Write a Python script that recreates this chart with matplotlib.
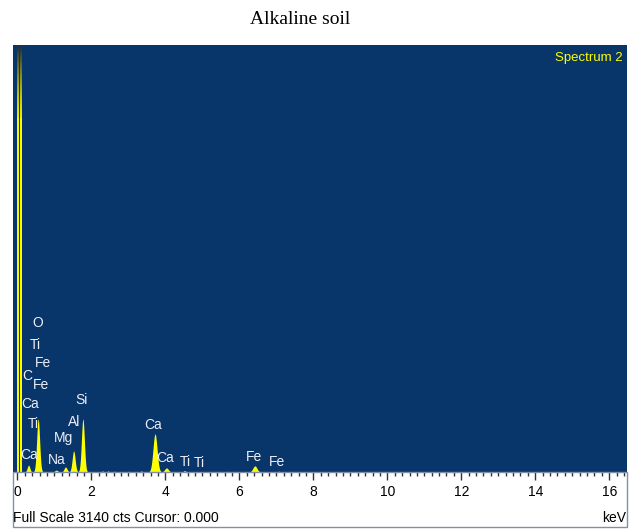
import numpy as np
import matplotlib
matplotlib.use('Agg')
import matplotlib.pyplot as plt
from matplotlib.patches import Rectangle
from matplotlib.ticker import MultipleLocator

# EDS spectrum, peaks (keV, counts, sigma keV)
peak_kev = [0.30, 0.56, 1.05, 1.30, 1.52, 1.77, 2.30, 2.45, 2.62, 3.00, 3.35, 3.72, 4.03, 4.52, 5.70, 6.42, 7.06]
peak_cts = [50, 390, 14, 37, 155, 390, 8, 8, 6, 6, 8, 280, 30, 10, 6, 45, 8]
peak_sig = [0.035, 0.04, 0.04, 0.04, 0.04, 0.04, 0.02, 0.02, 0.02, 0.01, 0.02, 0.055, 0.05, 0.03, 0.01, 0.055, 0.01]

# noise spike at zero energy, off scale
spike_kev = [0.02, 0.10]
full_scale = 3140

labels = ['O', 'Ti', 'Fe', 'C', 'Fe', 'Ca', 'Ti', 'Si', 'Al', 'Mg', 'Ca', 'Na',
          'Ca', 'Ca', 'Ti', 'Ti', 'Fe', 'Fe']
label_x = [0.54, 0.49, 0.70, 0.27, 0.63, 0.33, 0.42, 1.73, 1.52, 1.25, 0.31, 1.05,
           3.68, 4.00, 4.53, 4.93, 6.39, 7.03]
label_y = [1095, 937, 803, 706, 640, 500, 353, 529, 370, 248, 125, 88,
           345, 101, 75, 68, 112, 75]

blue = '#08356a'
yellow = '#ffff00'

fig = plt.figure(figsize=(6.37, 5.29), dpi=100)
ax = fig.add_axes([13/637, 57/529, 614/637, 427/529])
ax.set_facecolor(blue)

e = np.linspace(-0.1, 16.5, 6000)
spec = np.zeros_like(e)
for k, c, s in zip(peak_kev, peak_cts, peak_sig):
    spec += c * np.exp(-0.5 * ((e - k) / s) ** 2)
ax.fill_between(e, 0, spec, color=yellow, lw=0)

# the zero spike fades out toward the top
nseg = 40
fade_from = 2600
tops = np.linspace(fade_from, full_scale, nseg + 1)
for x in spike_kev:
    ax.vlines(x, 0, fade_from, color=yellow, lw=1.4)
    for i in range(nseg):
        f = ((i + 0.5) / nseg) ** 1.3
        col = (1 - f) * np.array([0.95, 0.95, 0.0]) + f * np.array([0.13, 0.17, 0.22])
        ax.vlines(x, tops[i], tops[i+1], color=col, lw=1.4)

for t, x, y in zip(labels, label_x, label_y):
    ax.text(x, y, t, color='#eeeef4', fontsize=10, family='Liberation Sans',
            ha='center', va='center')

ax.text(0.993, 0.97, 'Spectrum 2', transform=ax.transAxes, color=yellow,
        fontsize=9.5, family='Liberation Sans', ha='right', va='center')

ax.set_xlim(-0.12, 16.48)
ax.set_ylim(0, full_scale)
ax.xaxis.set_major_locator(MultipleLocator(2))
ax.xaxis.set_minor_locator(MultipleLocator(0.2))
ax.tick_params(axis='x', which='major', direction='out', length=6, width=1,
               labelsize=10, pad=3, color='#333333')
ax.tick_params(axis='x', which='minor', direction='out', length=3, width=1, color='#333333')
for lab in ax.get_xticklabels():
    lab.set_family('Liberation Sans')
ax.set_yticks([])
for s in ax.spines.values():
    s.set_visible(False)

# white strip under the spectrum with its frame
fig.patches.append(Rectangle((13/637, 2/529), 614/637, 55/529, transform=fig.transFigure,
                             facecolor='none', edgecolor='#8090a8', lw=1))
fig.text(13/637, 11/529, 'Full Scale 3140 cts Cursor: 0.000', fontsize=10,
         family='Liberation Sans', ha='left', va='center')
fig.text(626/637, 11/529, 'keV', fontsize=10, family='Liberation Sans', ha='right', va='center')

fig.text(300/637, 1 - 20/529, 'Alkaline soil', fontsize=14, family='Liberation Serif',
         ha='center', va='center')

fig.savefig('out.png', dpi=100)
